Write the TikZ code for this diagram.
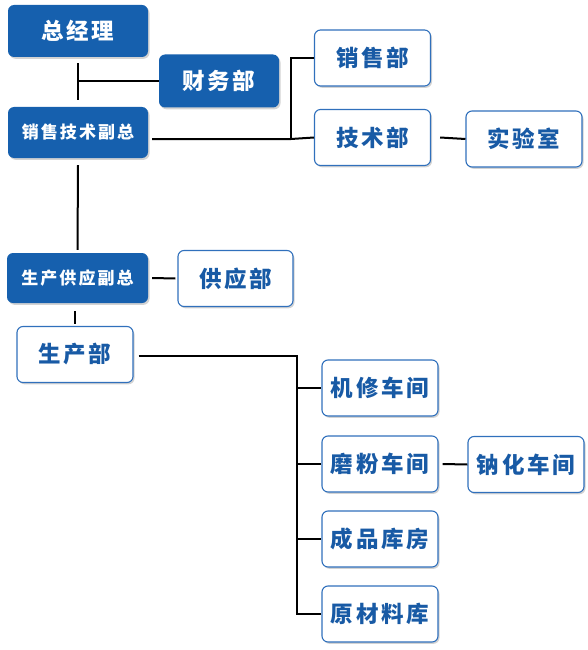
\documentclass[tikz,border=0pt]{standalone}
\usepackage{fontspec}
\newfontfamily\cjk[LetterSpace=12]{Noto Sans CJK SC}
\usetikzlibrary{shadows}
\definecolor{orgblue}{RGB}{22,96,174}
\definecolor{orgline}{RGB}{48,112,188}
\definecolor{orgtext}{RGB}{24,90,165}
\tikzset{
  box/.style={rounded corners=6pt, minimum width=116pt, minimum height=56pt, inner sep=0pt,
    font=\cjk\bfseries\fontsize{22.5}{22.5}\selectfont,
    drop shadow={shadow xshift=1.5pt, shadow yshift=-1.8pt, opacity=.35}},
  headbox/.style={box, fill=orgblue, text=white, minimum width=140pt, minimum height=51pt},
  deptbox/.style={box, draw=orgline, line width=1.1pt, fill=white, text=orgtext},
  small/.style={font=\cjk\bfseries\fontsize{17}{17}\selectfont},
  link/.style={line width=2pt}
}
\begin{document}
\begin{tikzpicture}[x=1pt, y=-1pt]
\useasboundingbox (0,0) rectangle (588,650);
\node[headbox, minimum height=52pt] (gm) at (78,31) {总经理};
\node[headbox, minimum width=120pt, minimum height=53pt] (fin) at (219,81) {财务部};
\node[headbox, small] (vps) at (78,132.5) {销售技术副总};
\node[headbox, small, minimum width=141pt, minimum height=50pt] (vpp) at (77.5,278) {生产供应副总};

\node[deptbox] (sal) at (372.5,58) {销售部};
\node[deptbox] (tec) at (372.5,137.5) {技术部};
\node[deptbox] (lab) at (524,139) {实验室};
\node[deptbox, minimum width=115pt] (sup) at (235.5,278.5) {供应部};
\node[deptbox] (prd) at (75,354.5) {生产部};
\node[deptbox] (rep) at (380,388) {机修车间};
\node[deptbox] (mil) at (380,464) {磨粉车间};
\node[deptbox] (sod) at (526,464.5) {钠化车间};
\node[deptbox] (stk) at (380,539) {成品库房};
\node[deptbox] (raw) at (380,614) {原材料库};

\coordinate (b1) at (291,139);
\coordinate (b2) at (297,356);

% top
\draw[link] ([yshift=-6pt]gm.south) -- ([yshift=7pt]vps.north);
\draw[link] (fin.west) -- (fin.west -| gm.south);
\draw[link] ([xshift=4pt]vps.east |- b1) -- (b1) -- (tec.west);
\draw[link] (sal.west) -| (b1);
\draw[link] ([xshift=9pt]tec.east) -- (lab.west);

% production
\draw[link] ([yshift=-7pt]vps.south) -- ([yshift=3pt]vpp.north);
\draw[link] ([xshift=4pt]vpp.east) -- ([xshift=-2pt]sup.west);
\draw[link] ([yshift=-8pt]vpp.south -| prd) -- ([yshift=2pt]prd.north);
\draw[link] ([xshift=5pt]prd.east |- b2) -- (b2) -- (b2 |- raw.west) -- (raw.west);
\foreach \n in {rep,mil,stk}
{
    \draw[link] (b2 |- \n.west) -- (\n.west);
}
\draw[link] ([xshift=4pt]mil.east) -- (sod.west);
\end{tikzpicture}
\end{document}
